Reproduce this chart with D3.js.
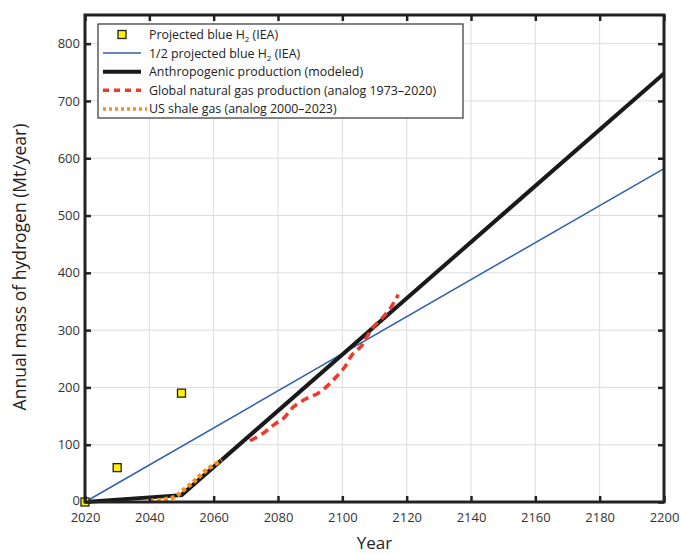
<!DOCTYPE html>
<html>
<head>
<meta charset="utf-8">
<script src="https://cdn.jsdelivr.net/npm/d3@7"></script>
<style>
  body { margin: 0; background: #fff; }
  text { font-family: "Open Sans", sans-serif; }
</style>
</head>
<body>
<svg id="chart" width="681" height="555"></svg>
<script>
// Data
const xTicks = [2020, 2040, 2060, 2080, 2100, 2120, 2140, 2160, 2180, 2200];
const yTicks = [0, 100, 200, 300, 400, 500, 600, 700, 800];

const ieaYears = [2020, 2030, 2050];
const ieaValues = [0, 60, 190];

const halfIeaYears = [2020, 2200];
const halfIeaValues = [0, 582];

const modelYears = [2020, 2050, 2200];
const modelValues = [0, 12, 748];

const gasYears = [2071.3, 2075.4, 2079, 2081.7, 2084.8, 2089, 2092.5, 2095.6, 2098.2, 2100.8, 2102.9, 2106, 2107.6, 2109.6, 2112.7, 2114.8, 2116.4, 2117.4];
const gasValues = [107, 120, 136, 146, 166, 181, 190, 204, 219, 236, 256, 273, 288, 305, 323, 337, 352, 362];

const shaleYears = [2040.2, 2044, 2048, 2050, 2053.7, 2057.8, 2062.5];
const shaleValues = [2, 4, 9, 18, 35, 56, 73];

const legendLabels = [
  "Projected blue H|2| (IEA)",
  "1/2 projected blue H|2| (IEA)",
  "Anthropogenic production (modeled)",
  "Global natural gas production (analog 1973\u20132020)",
  "US shale gas (analog 2000\u20132023)"
];

const svg = d3.select('#chart');
const margin = {left: 85, right: 17, top: 15, bottom: 53};
const W = 681, H = 555;

const x = d3.scaleLinear().domain([2020, 2200]).range([margin.left, W - margin.right]);
const y = d3.scaleLinear().domain([0, 850]).range([H - margin.bottom, margin.top]);

// Grid
svg.append('g').selectAll('line').data(xTicks).join('line')
  .attr('x1', d => x(d)).attr('x2', d => x(d))
  .attr('y1', y(0)).attr('y2', y(850))
  .attr('stroke', '#dcdcdc').attr('stroke-width', 1);
svg.append('g').selectAll('line').data(yTicks).join('line')
  .attr('x1', x(2020)).attr('x2', x(2200))
  .attr('y1', d => y(d)).attr('y2', d => y(d))
  .attr('stroke', '#dcdcdc').attr('stroke-width', 1);

// Series
const line = d3.line().x(d => x(d[0])).y(d => y(d[1]));
const smooth = d3.line().curve(d3.curveCatmullRom).x(d => x(d[0])).y(d => y(d[1]));
const zip = (a, b) => a.map((v, i) => [v, b[i]]);

svg.append('path').datum(zip(halfIeaYears, halfIeaValues))
  .attr('d', line).attr('fill', 'none')
  .attr('stroke', '#2f5fae').attr('stroke-width', 1.5);

svg.append('path').datum(zip(modelYears, modelValues))
  .attr('d', line).attr('fill', 'none')
  .attr('stroke', '#1a1a1a').attr('stroke-width', 4)
  .attr('stroke-linejoin', 'round');

svg.append('path').datum(zip(shaleYears, shaleValues))
  .attr('d', smooth).attr('fill', 'none')
  .attr('stroke', '#f5901e').attr('stroke-width', 4.5)
  .attr('stroke-dasharray', '4,3');

svg.append('path').datum(zip(gasYears, gasValues))
  .attr('d', smooth).attr('fill', 'none')
  .attr('stroke', '#ee3a2c').attr('stroke-width', 3.5)
  .attr('stroke-dasharray', '8,5');

svg.append('g').selectAll('rect').data(zip(ieaYears, ieaValues)).join('rect')
  .attr('x', d => x(d[0]) - 4).attr('y', d => y(d[1]) - 4)
  .attr('width', 8).attr('height', 8)
  .attr('fill', '#fff200').attr('stroke', '#222').attr('stroke-width', 1.3);

// Axes: frame with inward ticks
const axisColor = '#222';
const tickLen = 6;
svg.append('rect')
  .attr('x', x(2020)).attr('y', y(850))
  .attr('width', x(2200) - x(2020)).attr('height', y(0) - y(850))
  .attr('fill', 'none').attr('stroke', axisColor).attr('stroke-width', 3);

const bottomAxis = d3.axisBottom(x).tickValues(xTicks).tickFormat(d3.format('d')).tickSize(-tickLen).tickPadding(11);
const topAxis = d3.axisTop(x).tickValues(xTicks).tickFormat('').tickSize(-tickLen);
const leftAxis = d3.axisLeft(y).tickValues(yTicks).tickSize(-tickLen).tickPadding(5);
const rightAxis = d3.axisRight(y).tickValues(yTicks).tickFormat('').tickSize(-tickLen);

function styleAxis(g) {
  g.select('.domain').remove();
  g.selectAll('.tick line').attr('stroke', axisColor).attr('stroke-width', 2.5);
  g.selectAll('.tick text').attr('fill', '#333').style('font-size', '13px')
    .style('font-family', '"Open Sans", sans-serif');
}
svg.append('g').attr('transform', `translate(0,${y(0)})`).call(bottomAxis).call(styleAxis);
svg.append('g').attr('transform', `translate(0,${y(850)})`).call(topAxis).call(styleAxis);
svg.append('g').attr('transform', `translate(${x(2020)},0)`).call(leftAxis).call(styleAxis)
  .selectAll('.tick text').attr('dy', d => d === 0 ? '0.2em' : '0.32em');
svg.append('g').attr('transform', `translate(${x(2200)},0)`).call(rightAxis).call(styleAxis);

// Axis titles
svg.append('text').attr('x', (x(2020) + x(2200)) / 2).attr('y', 549)
  .attr('text-anchor', 'middle').attr('fill', '#222').style('font-size', '17px').text('Year');
svg.append('text').attr('transform', `translate(26,267) rotate(-90)`)
  .attr('text-anchor', 'middle').attr('fill', '#222').style('font-size', '17.5px')
  .text('Annual mass of hydrogen (Mt/year)');

// Legend
const lg = svg.append('g');
lg.append('rect').attr('x', 98).attr('y', 24).attr('width', 365).attr('height', 94)
  .attr('fill', '#fff').attr('stroke', '#333').attr('stroke-width', 1.2);
const rowY = i => 34.5 + i * 18.6;
const sx1 = 103, sx2 = 141;

lg.append('rect').attr('x', (sx1 + sx2) / 2 - 4).attr('y', rowY(0) - 4).attr('width', 8).attr('height', 8)
  .attr('fill', '#fff200').attr('stroke', '#222').attr('stroke-width', 1.3);
lg.append('line').attr('x1', sx1).attr('x2', sx2).attr('y1', rowY(1)).attr('y2', rowY(1))
  .attr('stroke', '#2f5fae').attr('stroke-width', 1.5);
lg.append('line').attr('x1', sx1).attr('x2', sx2).attr('y1', rowY(2)).attr('y2', rowY(2))
  .attr('stroke', '#1a1a1a').attr('stroke-width', 4);
lg.append('line').attr('x1', sx1).attr('x2', sx2).attr('y1', rowY(3)).attr('y2', rowY(3))
  .attr('stroke', '#ee3a2c').attr('stroke-width', 3.5).attr('stroke-dasharray', '6,5');
lg.append('line').attr('x1', sx1).attr('x2', sx2 + 6).attr('y1', rowY(4)).attr('y2', rowY(4))
  .attr('stroke', '#f5901e').attr('stroke-width', 3.5).attr('stroke-dasharray', '3,3');

legendLabels.forEach((lab, i) => {
  const t = lg.append('text').attr('x', 149).attr('y', rowY(i) + 4.5)
    .attr('fill', '#222').style('font-size', '12.4px');
  lab.split('|').forEach((part, j) => {
    const ts = t.append('tspan').text(part);
    if (j === 1) ts.attr('dy', 3).style('font-size', '8px');
    if (j === 2) ts.attr('dy', -3);
  });
});
</script>
</body>
</html>
